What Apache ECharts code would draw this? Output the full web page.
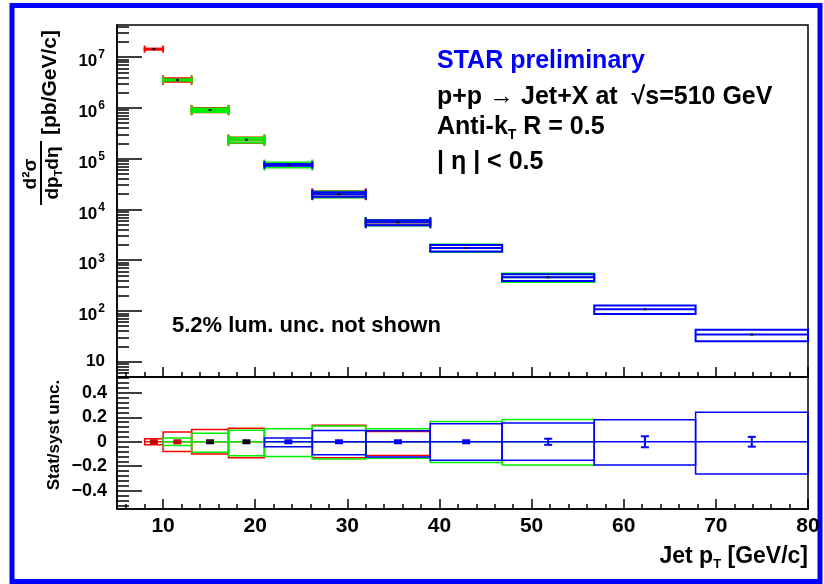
<!DOCTYPE html>
<html>
<head>
<meta charset="utf-8">
<script src="https://cdn.jsdelivr.net/npm/echarts@6/dist/echarts.min.js"></script>
<style>
html, body { margin: 0; padding: 0; background: #fff; }
#main { width: 824px; height: 584px; }
</style>
</head>
<body>
<div id="main"></div>
<script>
// jet pT bins [GeV/c] and cross section [pb/GeV/c]
var binEdges = [8, 10, 13.1, 17.1, 21, 26.2, 32, 39, 46.8, 56.8, 67.8, 80];
var xsec = [1.44e7, 3.55e6, 9.1e5, 2.36e5, 7.6e4, 2.0e4, 5.6e3, 1.74e3, 460, 108, 34.3];
var statRel = [0.01, 0.01, 0.006, 0.006, 0.008, 0.01, 0.012, 0.012, 0.025, 0.045, 0.04];

// relative systematic uncertainties, one set per colour (null = not drawn)
var redUp     = [0.025, 0.08, 0.10, 0.11, null, 0.136, 0.085, null, null, null, null];
var redDown   = [0.025, 0.08, 0.10, 0.13, null, 0.13, 0.112, null, null, null, null];
var greenUp   = [null, 0.03, 0.07, 0.095, 0.106, 0.13, 0.106, 0.166, 0.183, null, null];
var greenDown = [null, 0.03, 0.085, 0.115, 0.12, 0.141, 0.135, 0.17, 0.19, null, null];
var blueUp    = [null, null, null, null, 0.03, 0.092, 0.09, 0.147, 0.153, 0.18, 0.242];
var blueDown  = [null, null, null, null, 0.04, 0.106, 0.125, 0.152, 0.152, 0.19, 0.264];

// tick labels
var xTicks = [10, 20, 30, 40, 50, 60, 70, 80];
var logTicks = [10, 100, 1e3, 1e4, 1e5, 1e6, 1e7];
var ratioTicks = [-0.4, -0.2, 0, 0.2, 0.4];

var F = '"Liberation Sans", Arial, Helvetica, sans-serif';
var RED = '#ff0000', GREEN = '#00ee00', BLUE = '#0000ff';

var xMinor = [];
for (var v = 6; v < 80; v += 2) { if (v % 10 !== 0) xMinor.push(v); }
var logMinor = [];
for (var k = 0; k <= 7; k++) {
    for (var m = 2; m <= 9; m++) {
        var lv = m * Math.pow(10, k);
        if (lv > 5 && lv < 4.3e7) logMinor.push(lv);
    }
}
var ratioMinor = [];
for (var i = -13; i <= 13; i++) { if (i % 5 !== 0) ratioMinor.push(+(i * 0.04).toFixed(2)); }

function boxData(up, down) {
    var out = [];
    for (var i = 0; i < xsec.length; i++) {
        if (up[i] == null) continue;
        out.push([binEdges[i], binEdges[i + 1], xsec[i], up[i], down[i]]);
    }
    return out;
}

function boxRender(top, color) {
    return function (params, api) {
        var lo = api.value(0), hi = api.value(1), c = api.value(2), up = api.value(3), dn = api.value(4);
        var a = api.coord([lo, top ? c * (1 + up) : up]);
        var b = api.coord([hi, top ? c * (1 - dn) : -dn]);
        var m1 = api.coord([lo, top ? c : 0]);
        var m2 = api.coord([hi, top ? c : 0]);
        var lw = top ? 2 : 1.5;
        var kids = [
            { type: 'rect', shape: { x: a[0], y: a[1], width: b[0] - a[0], height: b[1] - a[1] },
              style: { fill: 'none', stroke: color, lineWidth: lw } },
            { type: 'line', shape: { x1: m1[0], y1: m1[1], x2: m2[0], y2: m2[1] },
              style: { stroke: color, lineWidth: lw } }
        ];
        if (top && b[1] - a[1] < 6) {
            kids.push({ type: 'line', shape: { x1: a[0], y1: a[1] - 3, x2: a[0], y2: b[1] + 3 }, style: { stroke: color, lineWidth: 2 } });
            kids.push({ type: 'line', shape: { x1: b[0], y1: a[1] - 3, x2: b[0], y2: b[1] + 3 }, style: { stroke: color, lineWidth: 2 } });
        }
        return { type: 'group', children: kids };
    };
}

var statData = [];
for (var j = 0; j < xsec.length; j++) {
    statData.push([(binEdges[j] + binEdges[j + 1]) / 2, xsec[j], statRel[j], j]);
}

function statTop(params, api) {
    var p = api.coord([api.value(0), api.value(1)]);
    return { type: 'rect', shape: { x: p[0] - 1.5, y: p[1] - 1, width: 3, height: 2 }, style: { fill: '#000' } };
}

function statLow(params, api) {
    var x = api.value(0), e = api.value(2), idx = api.value(3);
    var col = idx < 2 ? '#c00000' : (idx < 4 ? '#000' : BLUE);
    var p = api.coord([x, 0]), pu = api.coord([x, e]), pd = api.coord([x, -e]);
    if (pd[1] - pu[1] < 6) {
        return { type: 'rect', shape: { x: p[0] - 4, y: p[1] - 2.5, width: 8, height: 5 }, style: { fill: col } };
    }
    return { type: 'group', children: [
        { type: 'line', shape: { x1: p[0], y1: pu[1], x2: p[0], y2: pd[1] }, style: { stroke: col, lineWidth: 2 } },
        { type: 'line', shape: { x1: p[0] - 4, y1: pu[1], x2: p[0] + 4, y2: pu[1] }, style: { stroke: col, lineWidth: 2 } },
        { type: 'line', shape: { x1: p[0] - 4, y1: pd[1], x2: p[0] + 4, y2: pd[1] }, style: { stroke: col, lineWidth: 2 } }
    ] };
}

function xAxis(grid, ticks, len, labels) {
    return {
        type: 'value', gridIndex: grid, position: 'bottom', min: 5, max: 80,
        axisLine: { show: labels !== null, onZero: false, lineStyle: { color: '#000', width: 1.5 } },
        axisTick: { show: true, inside: true, length: len, customValues: ticks, lineStyle: { color: '#000', width: 1.5 } },
        axisLabel: labels ? { show: true, customValues: xTicks, margin: 7, color: '#000',
            fontFamily: F, fontWeight: 'bold', fontSize: 21 } : { show: false },
        splitLine: { show: false }
    };
}

var series = [];
function addBoxes(top, xi, yi) {
    [[redUp, redDown, RED], [greenUp, greenDown, GREEN], [blueUp, blueDown, BLUE]].forEach(function (s) {
        series.push({
            type: 'custom', xAxisIndex: xi, yAxisIndex: yi, silent: true,
            encode: { x: [0, 1], y: 2 },
            renderItem: boxRender(top, s[2]), data: boxData(s[0], s[1])
        });
    });
}
addBoxes(true, 0, 0);
addBoxes(false, 2, 2);
series.push({ type: 'custom', xAxisIndex: 0, yAxisIndex: 0, silent: true, encode: { x: 0, y: 1 }, renderItem: statTop, data: statData });
series.push({ type: 'custom', xAxisIndex: 2, yAxisIndex: 2, silent: true, encode: { x: 0, y: 2 }, renderItem: statLow, data: statData });

var myChart = echarts.init(document.getElementById('main'));

var option = {
    backgroundColor: '#fff',
    animation: false,
    grid: [
        { left: 117, right: 16, top: 25, height: 352, show: true, borderColor: '#000', borderWidth: 1.5, outerBoundsMode: 'none' },
        { left: 117, right: 16, top: 377, height: 132, show: true, borderColor: '#000', borderWidth: 1.5, outerBoundsMode: 'none' }
    ],
    xAxis: [
        xAxis(0, xTicks, 10, false),
        xAxis(0, xMinor, 5, null),
        xAxis(1, xTicks, 10, true),
        xAxis(1, xMinor, 5, null)
    ],
    yAxis: [
        {
            type: 'log', gridIndex: 0, position: 'left', min: 5, max: 4.3e7,
            axisLine: { show: true, lineStyle: { color: '#000', width: 1.5 } },
            axisTick: { show: true, inside: true, length: 25, customValues: logTicks, lineStyle: { color: '#000', width: 1.5 } },
            axisLabel: {
                customValues: logTicks, margin: 12, color: '#000',
                formatter: function (v) {
                    var e = Math.round(Math.log10(v));
                    return e === 1 ? '{b|10}' : '{b|10}{s|' + e + '}';
                },
                rich: {
                    b: { fontFamily: F, fontWeight: 'bold', fontSize: 17, color: '#000', verticalAlign: 'bottom', lineHeight: 17 },
                    s: { fontFamily: F, fontWeight: 'bold', fontSize: 12, color: '#000', verticalAlign: 'top', padding: [5, 0, 9, 1] }
                }
            },
            splitLine: { show: false }
        },
        {
            type: 'log', gridIndex: 0, position: 'left', min: 5, max: 4.3e7,
            axisLine: { show: false },
            axisTick: { show: true, inside: true, length: 12, customValues: logMinor, lineStyle: { color: '#000', width: 1.5 } },
            axisLabel: { show: false }, splitLine: { show: false }
        },
        {
            type: 'value', gridIndex: 1, position: 'left', min: -0.55, max: 0.53,
            axisLine: { show: true, onZero: false, lineStyle: { color: '#000', width: 1.5 } },
            axisTick: { show: true, inside: true, length: 25, customValues: ratioTicks, lineStyle: { color: '#000', width: 1.5 } },
            axisLabel: {
                customValues: ratioTicks, margin: 10, color: '#000',
                fontFamily: F, fontWeight: 'bold', fontSize: 18,
                formatter: function (v) {
                    if (Math.abs(v) < 1e-9) return '0';
                    return (v < 0 ? '\u2212' : '') + Math.abs(v).toFixed(1);
                }
            },
            splitLine: { show: false }
        },
        {
            type: 'value', gridIndex: 1, position: 'left', min: -0.55, max: 0.53,
            axisLine: { show: false },
            axisTick: { show: true, inside: true, length: 12, customValues: ratioMinor, lineStyle: { color: '#000', width: 1.5 } },
            axisLabel: { show: false }, splitLine: { show: false }
        }
    ],
    graphic: [
        { type: 'rect', silent: true, shape: { x: 12, y: 5.5, width: 808, height: 576 },
          style: { fill: 'none', stroke: '#0000ff', lineWidth: 5 } },
        { type: 'text', x: 437, y: 61, style: { text: 'STAR preliminary', fill: BLUE,
          fontFamily: F, fontWeight: 'bold', fontSize: 25, verticalAlign: 'middle' } },
        { type: 'text', x: 437, y: 97, style: { text: 'p+p \u2192 Jet+X at  \u221As=510 GeV', fill: '#000',
          fontFamily: F, fontWeight: 'bold', fontSize: 25, verticalAlign: 'middle' } },
        { type: 'text', x: 437, y: 127, style: { text: '{n|Anti-k}{t|T}{n| R = 0.5}', verticalAlign: 'middle',
          rich: {
              n: { fontFamily: F, fontWeight: 'bold', fontSize: 25, color: '#000', lineHeight: 30 },
              t: { fontFamily: F, fontWeight: 'bold', fontSize: 14, color: '#000', verticalAlign: 'bottom', lineHeight: 6 }
          } } },
        { type: 'text', x: 437, y: 162, style: { text: '| \u03B7 | < 0.5', fill: '#000',
          fontFamily: F, fontWeight: 'bold', fontSize: 25, verticalAlign: 'middle' } },
        { type: 'text', x: 172, y: 326, style: { text: '5.2% lum. unc. not shown', fill: '#000',
          fontFamily: F, fontWeight: 'bold', fontSize: 22, verticalAlign: 'middle' } },
        { type: 'text', x: 808, y: 557, style: { text: '{n|Jet p}{t|T}{n| [GeV/c]}', align: 'right', verticalAlign: 'middle',
          rich: {
              n: { fontFamily: F, fontWeight: 'bold', fontSize: 23, color: '#000', lineHeight: 28 },
              t: { fontFamily: F, fontWeight: 'bold', fontSize: 13, color: '#000', verticalAlign: 'bottom', lineHeight: 4 }
          } } },
        { type: 'text', x: 54, y: 435, rotation: Math.PI / 2, style: { text: 'Stat/syst unc.', fill: '#000',
          fontFamily: F, fontWeight: 'bold', fontSize: 17, align: 'center', verticalAlign: 'middle' } },
        { type: 'group', x: 41, y: 205, rotation: Math.PI / 2, children: [
            { type: 'text', x: 31, y: -1, style: { text: 'd\u00B2\u03C3', fill: '#000', fontFamily: F, fontWeight: 'bold',
              fontSize: 19, align: 'center', verticalAlign: 'bottom' } },
            { type: 'line', shape: { x1: 0, y1: 0, x2: 64, y2: 0 }, style: { stroke: '#000', lineWidth: 2 } },
            { type: 'text', x: 32, y: 1, style: { text: '{n|dp}{t|T}{n|d\u03B7}', align: 'center', verticalAlign: 'top',
              rich: {
                  n: { fontFamily: F, fontWeight: 'bold', fontSize: 19, color: '#000', lineHeight: 22 },
                  t: { fontFamily: F, fontWeight: 'bold', fontSize: 11, color: '#000', verticalAlign: 'bottom', lineHeight: 4 }
              } } },
            { type: 'text', x: 70, y: 9, style: { text: '[pb/GeV/c]', fill: '#000', fontFamily: F, fontWeight: 'bold',
              fontSize: 21, verticalAlign: 'middle' } }
        ] }
    ],
    series: series
};
myChart.setOption(option);
</script>
</body>
</html>
